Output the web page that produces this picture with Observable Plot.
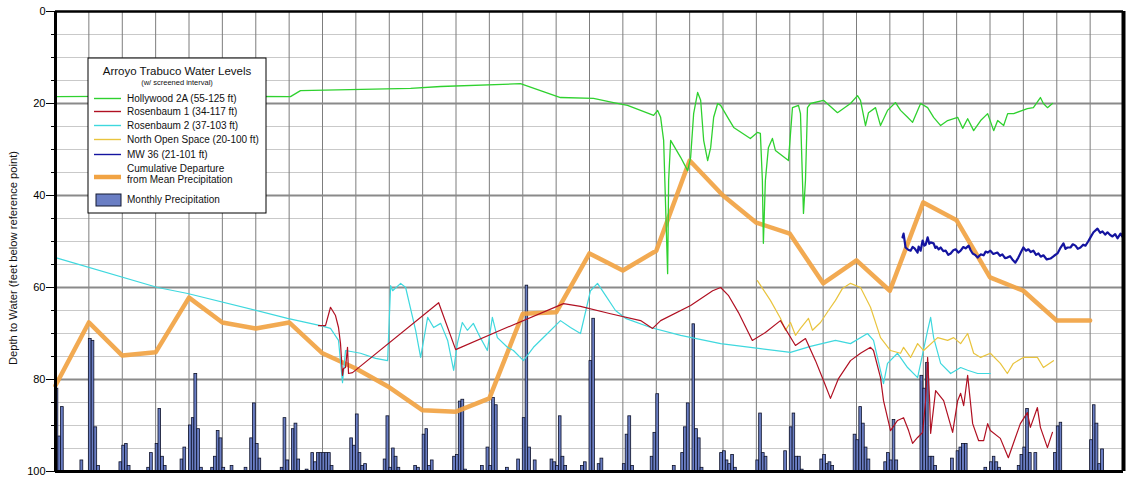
<!DOCTYPE html>
<html><head><meta charset="utf-8">
<script src="https://cdn.jsdelivr.net/npm/d3@7"></script>
<script src="https://cdn.jsdelivr.net/npm/@observablehq/plot@0.6"></script>
<style>
body{margin:0;background:#fff;font-family:"Liberation Sans",Arial,sans-serif;}
#wrap{position:relative;width:1128px;height:478px;}
</style></head><body><div id="wrap"></div>
<script>
// ---------- data ----------
const yTicks = [0, 20, 40, 60, 80, 100];
const minorTicks = [5,10,15,25,30,35,45,50,55,65,70,75,85,90,95];
const majorGrid = [20, 40, 60, 80];
const gridYears = d3.range(1979, 2012);
const legendTitle = "Arroyo Trabuco Water Levels";
const legendSubtitle = "(w/ screened interval)";
const seriesNames = ["Hollywood 2A (55-125 ft)", "Rosenbaum 1 (34-117 ft)", "Rosenbaum 2 (37-103 ft)", "North Open Space (20-100 ft)", "MW 36 (21-101 ft)"];
const seriesColors = ["#2fd12f", "#b01022", "#3fd8de", "#e9c43e", "#1414a0"];
const cumColor = "#f1a343";
const barFill = "#6a7ec4";

// monthly precipitation (inches), Jan..Dec, for 1979..2010
const precipYears = d3.range(1979, 2011);
const monthlyPrecip = [
 [4.5,1.9,3.5,0,0,0,0,0,0,0.6,0,0],
 [7.2,7.1,2.4,0.3,0,0,0,0,0,0,0,0.5],
 [1.4,1.5,0.3,0,0,0,0,0,0,0.2,1.0,0],
 [1.5,3.4,0.8,0.3,0,0,0,0,0,0.65,1.3,0],
 [2.5,2.9,5.3,2.3,0.2,0,0,0,0.2,0.8,2.2,1.8],
 [0.2,0,0,0.3,0,0,0,0,0.2,0,1.8,3.7],
 [1.5,0.7,0,0,0,0,0,0,0,0.2,2.9,0.6],
 [0,2.3,2.6,0.65,0,0,0.1,0,1.0,0.5,1.0,1.0],
 [1.0,1.0,1.0,0.3,0,0,0,0,0,0,1.8,1.4],
 [3.1,1.0,0.3,0.4,0,0,0,0,0,0,0.65,3.0],
 [0.2,1.25,0.8,0.2,0,0,0,0,0,0.3,0.2,0],
 [2.0,2.3,0.3,0.6,0,0,0,0,0,0,0,0.8],
 [0.9,3.8,3.9,0.1,0,0,0,0,0,0.3,0,1.3],
 [0.3,4.0,3.6,0,0,0,0.2,0,0,0,0.65,0],
 [2.9,10.1,1.3,0,0.6,0,0,0,0,0,0.65,0.5],
 [0.3,3.0,0.8,0.3,0,0,0,0,0,0.3,0.5,0],
 [6.0,8.3,0,0.4,0.7,0,0,0,0,0,0,0],
 [0.4,2.0,3.0,0.3,0,0,0,0,0,0,0.8,2.1],
 [4.2,0,0,0,0,0,0.3,0,0,1.0,2.4,3.7],
 [0,8.0,2.3,1.8,0.2,0,0,0,0,0,0,1.0],
 [1.1,0.6,0.4,0.9,0.2,0,0,0,0,0,0,0],
 [0.6,3.15,1.0,0.8,0,0,0,0,0,0,1.1,0],
 [2.4,3.15,0.8,0.8,0.1,0,0,0,0,0,0,0.65],
 [0.9,0.4,0.5,0.3,0,0,0,0,0,0,0,2.0],
 [1.7,3.5,2.6,1.3,0.65,0,0,0,0,0,0.5,1.0],
 [0.6,2.8,0.6,0,0,0,0,0,0,0,0,5.2],
 [4.5,5.9,0.8,0.8,0.3,0,0,0,0,0,0.7,0],
 [1.1,1.3,1.5,1.5,0,0,0,0,0,0,0.2,0],
 [0.5,0.8,0.5,0.2,0,0,0,0,0,0,0.3,0.9],
 [1.3,3.4,1.0,0,1.0,0,0,0,0,0,0,1.0],
 [2.45,2.65,0,0,0,0,0,0,0,0,0,0],
 [1.7,3.6,2.6,0.4,1.2,0,0,0,0,0,0,0]
];
const precipDepthPerInch = 4; // secondary scale: bars rise from depth 100

// cumulative departure from mean precipitation (plotted as depth), Jan 1 of each year
const cumYears = d3.range(1979, 2011);
const cumDepth = [81.3,67.6,74.8,74.1,62.2,67.6,68.9,67.6,74.3,77.6,81.7,86.7,87.0,84.1,65.7,65.4,52.6,56.3,52.0,32.4,40.0,45.9,48.3,59.1,54.1,60.7,41.5,45.4,57.8,60.7,67.2,67.2];

// water levels: [decimal year, depth ft]
const hollywood2A = [[1979.00,18.5],[1981.85,18.4],[1986.04,18.5],[1986.34,17.2],[1989.64,16.7],[1990.54,16.3],[1992.93,15.7],[1994.13,18.7],[1995.12,18.9],[1995.72,19.8],[1996.14,20.4],[1996.92,22.6],[1997.04,21.5],[1997.13,23.0],[1997.22,28.0],[1997.34,57.0],[1997.37,36.7],[1997.43,28.0],[1997.73,31.7],[1997.94,34.6],[1998.03,31.7],[1998.12,22.2],[1998.24,17.6],[1998.33,19.3],[1998.42,28.0],[1998.54,32.4],[1998.63,29.6],[1998.72,23.0],[1998.84,20.0],[1998.93,20.4],[1999.14,23.0],[1999.32,25.2],[1999.82,27.6],[2000.03,26.3],[2000.12,26.5],[2000.18,36.7],[2000.21,50.4],[2000.27,36.7],[2000.36,29.6],[2000.48,27.6],[2000.57,30.2],[2000.96,32.4],[2001.08,20.9],[2001.26,20.4],[2001.32,22.2],[2001.41,43.9],[2001.47,36.7],[2001.53,20.9],[2001.62,20.0],[2002.01,19.3],[2002.43,22.0],[2002.82,20.0],[2003.03,18.3],[2003.12,19.3],[2003.27,24.8],[2003.36,22.0],[2003.57,20.9],[2003.72,24.8],[2003.93,21.5],[2004.17,19.8],[2004.32,21.5],[2004.53,23.0],[2004.68,24.1],[2004.83,21.5],[2004.92,20.0],[2005.13,20.9],[2005.31,23.0],[2005.52,24.8],[2005.73,23.7],[2006.03,23.0],[2006.18,25.4],[2006.33,23.3],[2006.51,25.9],[2006.72,23.7],[2006.93,22.2],[2007.11,25.9],[2007.23,23.7],[2007.41,24.8],[2007.53,22.2],[2007.71,22.2],[2008.12,21.1],[2008.30,20.9],[2008.51,18.7],[2008.60,20.0],[2008.72,20.9],[2008.87,20.0]];

const rosenbaum1 = [[1986.88,68.3],[1987.09,68.3],[1987.24,64.3],[1987.39,66.1],[1987.48,68.7],[1987.54,72.2],[1987.60,79.1],[1987.63,77.6],[1987.69,77.4],[1987.75,73.0],[1987.78,78.7],[1987.90,78.5],[1990.48,63.3],[1990.99,73.5],[1992.33,69.3],[1994.22,63.5],[1994.73,64.1],[1995.63,65.7],[1996.53,67.2],[1996.89,68.9],[1997.13,67.2],[1998.03,63.9],[1998.69,60.7],[1998.93,60.0],[1999.16,61.7],[1999.46,65.4],[1999.88,71.5],[2000.27,69.8],[2000.72,67.2],[2001.17,72.6],[2001.47,71.1],[2001.77,75.9],[2002.01,80.2],[2002.22,84.1],[2002.46,79.8],[2002.82,75.9],[2003.12,74.3],[2003.42,73.0],[2003.51,73.7],[2003.72,79.6],[2003.81,84.6],[2004.02,91.1],[2004.23,88.9],[2004.41,88.3],[2004.56,91.1],[2004.68,93.9],[2004.83,92.6],[2004.98,91.5],[2005.07,84.6],[2005.13,75.2],[2005.19,84.6],[2005.22,91.7],[2005.37,82.4],[2005.61,84.6],[2005.88,91.5],[2006.03,84.6],[2006.12,83.0],[2006.21,85.7],[2006.33,79.1],[2006.48,89.6],[2006.66,93.3],[2006.81,93.3],[2006.93,89.6],[2007.01,91.1],[2007.31,92.8],[2007.55,97.0],[2007.70,93.9],[2007.91,89.6],[2008.12,87.2],[2008.21,90.4],[2008.42,86.1],[2008.51,90.4],[2008.72,94.8],[2008.87,91.5]];

const rosenbaum2 = [[1979.00,53.5],[1982.06,60.0],[1982.96,61.3],[1985.95,66.7],[1986.94,68.3],[1987.24,68.9],[1987.48,71.5],[1987.60,80.7],[1987.69,73.7],[1988.14,74.3],[1988.59,75.4],[1988.95,75.9],[1989.04,59.6],[1989.10,60.7],[1989.34,59.1],[1989.49,60.0],[1989.79,69.3],[1989.94,75.2],[1990.15,66.5],[1990.33,68.7],[1990.54,67.8],[1990.75,71.5],[1990.93,78.0],[1991.04,72.2],[1991.19,67.6],[1991.34,69.3],[1991.52,67.8],[1991.73,70.9],[1991.94,73.7],[1992.09,66.5],[1992.24,70.9],[1992.54,73.0],[1992.72,73.7],[1993.02,75.9],[1993.32,73.0],[1993.74,70.0],[1994.13,67.2],[1994.43,68.7],[1994.73,70.0],[1995.03,60.7],[1995.24,59.1],[1995.48,61.7],[1995.78,65.0],[1996.08,66.7],[1996.83,68.7],[1997.73,70.4],[1998.93,72.2],[2000.12,73.3],[2001.02,74.1],[2001.62,72.8],[2002.37,71.5],[2002.82,72.2],[2003.33,70.0],[2003.51,71.5],[2003.81,80.9],[2003.93,76.5],[2004.23,74.3],[2004.53,77.4],[2004.83,79.6],[2005.13,69.3],[2005.22,66.5],[2005.31,70.9],[2005.52,76.5],[2005.82,78.7],[2006.12,77.4],[2006.33,78.0],[2006.63,78.7],[2007.01,78.7]];

const northOpenSpace = [[2000.03,58.5],[2000.42,62.8],[2000.72,66.7],[2000.87,69.3],[2001.02,67.6],[2001.17,70.4],[2001.32,68.9],[2001.56,66.7],[2001.68,69.3],[2001.92,67.6],[2002.16,65.0],[2002.37,62.8],[2002.58,60.2],[2002.82,59.1],[2003.12,60.0],[2003.42,64.3],[2003.72,70.9],[2004.02,73.7],[2004.32,74.3],[2004.41,73.0],[2004.62,75.2],[2004.83,72.2],[2005.01,73.7],[2005.43,70.9],[2005.73,71.5],[2005.91,70.9],[2006.12,72.2],[2006.33,70.0],[2006.51,74.3],[2006.72,75.2],[2007.01,74.3],[2007.31,76.5],[2007.52,78.7],[2007.70,76.5],[2008.00,75.2],[2008.42,75.2],[2008.60,77.4],[2008.90,75.9]];

const mw36 = [[2004.38,49.1],[2004.41,48.3],[2004.47,51.3],[2004.55,51.8],[2004.62,52.0],[2004.68,51.2],[2004.74,51.5],[2004.83,52.4],[2004.86,51.1],[2004.92,52.0],[2004.98,49.8],[2005.03,50.9],[2005.07,50.7],[2005.13,49.1],[2005.18,50.5],[2005.22,50.2],[2005.31,50.4],[2005.36,51.4],[2005.40,51.1],[2005.46,51.7],[2005.52,51.3],[2005.60,52.1],[2005.67,52.0],[2005.75,52.9],[2005.82,52.6],[2005.90,51.9],[2005.97,51.7],[2006.05,52.4],[2006.12,52.0],[2006.20,51.2],[2006.27,51.5],[2006.36,50.9],[2006.42,51.9],[2006.48,52.6],[2006.55,52.9],[2006.63,53.5],[2006.72,52.8],[2006.81,53.0],[2006.87,52.2],[2006.93,52.4],[2007.01,52.0],[2007.10,52.7],[2007.22,52.4],[2007.30,53.1],[2007.37,52.8],[2007.45,53.6],[2007.52,53.5],[2007.60,53.2],[2007.67,53.9],[2007.76,54.6],[2007.85,53.5],[2007.93,52.3],[2008.00,51.3],[2008.08,52.0],[2008.15,51.7],[2008.22,52.3],[2008.30,52.0],[2008.38,52.9],[2008.45,52.6],[2008.52,53.3],[2008.60,53.0],[2008.70,53.9],[2008.81,53.7],[2008.92,53.1],[2009.02,52.6],[2009.10,51.5],[2009.20,50.4],[2009.26,51.6],[2009.32,51.3],[2009.41,51.3],[2009.48,50.6],[2009.56,50.9],[2009.63,51.6],[2009.71,51.3],[2009.79,50.7],[2009.86,50.9],[2009.94,50.0],[2010.01,49.1],[2010.10,48.0],[2010.22,47.2],[2010.30,48.1],[2010.37,47.8],[2010.45,48.5],[2010.52,48.0],[2010.60,48.6],[2010.67,48.9],[2010.75,48.4],[2010.82,49.3],[2010.91,48.3],[2010.96,48.9],[2011.00,47.6]];

// ---------- helpers ----------
function dy(v) {
  const y = Math.floor(v), f = v - y;
  const s = Date.UTC(y, 0, 1), e = Date.UTC(y + 1, 0, 1);
  return new Date(s + f * (e - s));
}
const toRows = arr => arr.map(([t, d]) => ({date: dy(t), depth: d}));

const precipRows = [];
precipYears.forEach((yr, i) => {
  monthlyPrecip[i].forEach((p, m) => {
    if (p > 0) precipRows.push({
      start: new Date(Date.UTC(yr, m, 1)),
      end: new Date(Date.UTC(yr, m + 1, 1)),
      base: 100,
      top: 100 - p * precipDepthPerInch
    });
  });
});
const cumRows = cumYears.map((y, i) => ({date: new Date(Date.UTC(y, 0, 1)), depth: cumDepth[i]}));
const x0 = new Date(Date.UTC(1979, 0, 1)), x1 = new Date(Date.UTC(2011, 0, 1));
const gridDates = gridYears.map(y => new Date(Date.UTC(y, 0, 1)));

const lineOpts = (stroke, w) => ({x: "date", y: "depth", stroke, strokeWidth: w, strokeLinejoin: "round"});

const plot = Plot.plot({
  width: 1128, height: 478,
  marginLeft: 55, marginRight: 5, marginTop: 11, marginBottom: 7,
  style: {fontFamily: "'Liberation Sans', Arial, sans-serif", fontSize: "11px", background: "#fff", overflow: "visible"},
  x: {type: "utc", domain: [x0, x1], axis: null},
  y: {domain: [0, 100], reverse: true, axis: null},
  marks: [
    Plot.ruleY(minorTicks, {stroke: "#c9c9c9", strokeWidth: 1}),
    Plot.ruleX(gridDates, {stroke: "#7d7d7d", strokeWidth: 1}),
    Plot.ruleY(majorGrid, {stroke: "#8a8a8a", strokeWidth: 2.2}),
    Plot.rect(precipRows, {x1: "start", x2: "end", y1: "base", y2: "top", fill: barFill, stroke: "#0d1128", strokeWidth: 0.8}),
    Plot.line(cumRows, {x: "date", y: "depth", stroke: cumColor, strokeWidth: 4.5, strokeOpacity: 0.92, strokeLinejoin: "round"}),
    Plot.line(toRows(rosenbaum2), lineOpts(seriesColors[2], 1.2)),
    Plot.line(toRows(northOpenSpace), lineOpts(seriesColors[3], 1.2)),
    Plot.line(toRows(rosenbaum1), lineOpts(seriesColors[1], 1.2)),
    Plot.line(toRows(hollywood2A), lineOpts(seriesColors[0], 1.3)),
    Plot.line(toRows(mw36), lineOpts(seriesColors[4], 2.2)),
    Plot.axisY({ticks: yTicks, tickSize: 9, tickPadding: 1, label: null, fontSize: 11, anchor: "left"}),
    Plot.axisY({ticks: minorTicks, tickSize: 4, tickFormat: () => "", label: null, anchor: "left"}),
    Plot.ruleX([x0], {stroke: "#000", strokeWidth: 3}),
    Plot.ruleX([x1], {stroke: "#000", strokeWidth: 4}),
    Plot.ruleY([0], {stroke: "#000", strokeWidth: 2.5}),
    Plot.ruleY([100], {stroke: "#000", strokeWidth: 3})
  ]
});
document.getElementById("wrap").appendChild(plot);

// y-axis title
const svg = d3.select(plot);
svg.append("text")
  .attr("transform", "translate(17,258) rotate(-90)")
  .attr("text-anchor", "middle")
  .attr("font-size", 11.2)
  .attr("fill", "#111")
  .text("Depth to Water (feet below reference point)");

// legend box
const lg = svg.append("g").attr("transform", "translate(88,58)")
  .attr("font-size", 10).attr("fill", "#111").attr("text-anchor", "start");
lg.append("rect").attr("width", 178).attr("height", 155).attr("fill", "#fff").attr("stroke", "#000").attr("stroke-width", 1);
lg.append("text").attr("x", 89).attr("y", 17).attr("text-anchor", "middle").attr("font-size", 11.5).text(legendTitle);
lg.append("text").attr("x", 89).attr("y", 27).attr("text-anchor", "middle").attr("font-size", 7.5).text(legendSubtitle);
const rowY = [44, 57, 71, 85, 100];
seriesNames.forEach((name, i) => {
  lg.append("line").attr("x1", 6).attr("x2", 33).attr("y1", rowY[i] - 3.5).attr("y2", rowY[i] - 3.5)
    .attr("stroke", seriesColors[i]).attr("stroke-width", 1.4);
  lg.append("text").attr("x", 39).attr("y", rowY[i]).attr("text-anchor", "start").text(name);
});
lg.append("line").attr("x1", 6).attr("x2", 33).attr("y1", 119).attr("y2", 119)
  .attr("stroke", cumColor).attr("stroke-width", 4.5);
lg.append("text").attr("x", 39).attr("y", 114).attr("text-anchor", "start").text("Cumulative Departure");
lg.append("text").attr("x", 39).attr("y", 125).attr("text-anchor", "start").text("from Mean Precipitation");
lg.append("rect").attr("x", 8).attr("y", 136).attr("width", 25).attr("height", 12)
  .attr("fill", barFill).attr("stroke", "#141a33").attr("stroke-width", 1);
lg.append("text").attr("x", 39).attr("y", 145).attr("text-anchor", "start").text("Monthly Precipitation");
</script>
</body></html>
